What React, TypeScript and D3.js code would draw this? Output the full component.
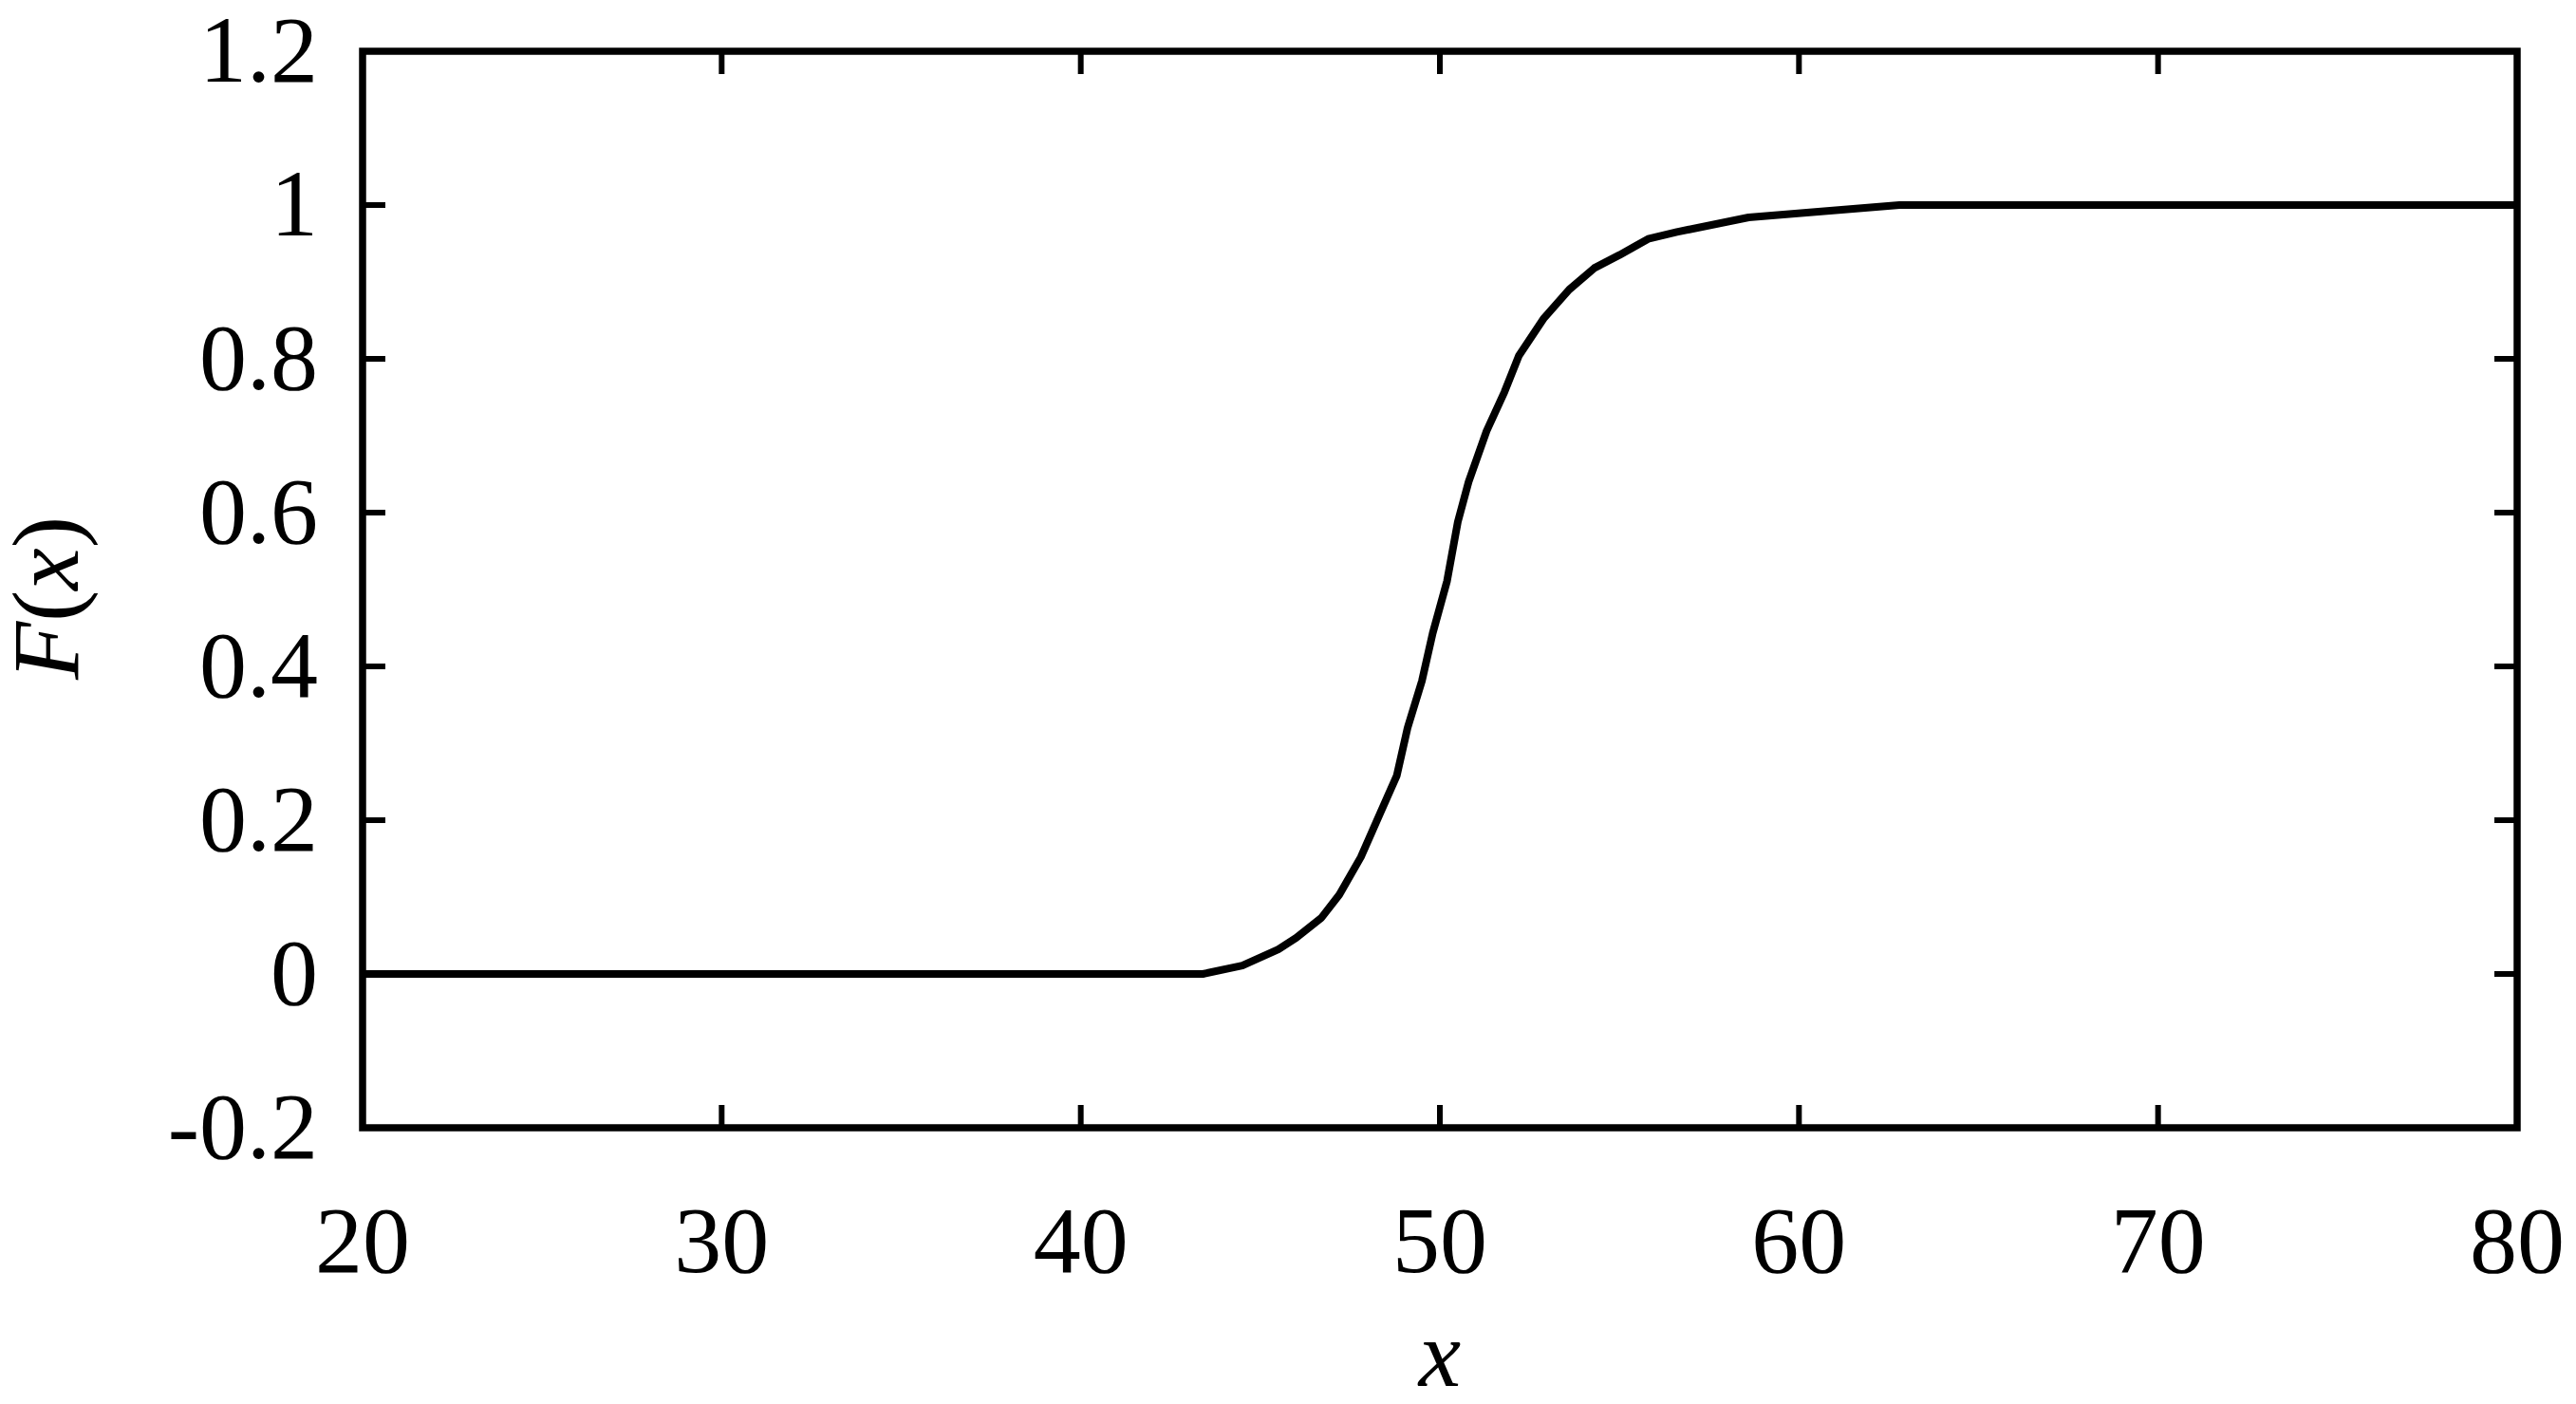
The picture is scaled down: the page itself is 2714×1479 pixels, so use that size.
import * as d3 from "d3";
import React from "react";

// values
const xValues = [20, 43.4, 44.5, 45.5, 46.0, 46.7, 47.2, 47.8, 48.3, 48.8, 49.1, 49.5, 49.8, 50.2, 50.5, 50.8, 51.3, 51.8, 52.2, 52.9, 53.6, 54.3, 55.0, 55.8, 56.6, 58.6, 62.8, 80];
const yValues = [0, 0, 0.011, 0.032, 0.047, 0.073, 0.103, 0.152, 0.205, 0.258, 0.32, 0.381, 0.443, 0.511, 0.588, 0.64, 0.706, 0.757, 0.804, 0.853, 0.89, 0.918, 0.935, 0.956, 0.965, 0.984, 1.0, 1.0];

const xTicks = [20, 30, 40, 50, 60, 70, 80];
const yTicks = [-0.2, 0, 0.2, 0.4, 0.6, 0.8, 1, 1.2];

const App = () => {
    const width = 2714;
    const height = 1479;
    const left = 382;
    const right = 2652;
    const top = 54;
    const bottom = 1188;
    const tickLength = 24;
    const font = "'Liberation Serif', 'Times New Roman', serif";

    const xScale = d3.scaleLinear().domain([20, 80]).range([left, right]);
    const yScale = d3.scaleLinear().domain([-0.2, 1.2]).range([bottom, top]);

    const points = xValues.map((x, i) => [x, yValues[i]]);
    const line = d3.line()
        .x(d => xScale(d[0]))
        .y(d => yScale(d[1]));

    return (
        <svg
            width={width}
            height={height}
            style={{position: "absolute", left: 0, top: 0, background: "white"}}
            fontFamily={font}
        >
            <rect x={0} y={0} width={width} height={height} fill="white" />
            {xTicks.map(t => (
                <g key={`x-${t}`}>
                    <line x1={xScale(t)} x2={xScale(t)} y1={bottom} y2={bottom - tickLength} stroke="black" strokeWidth={6} />
                    <line x1={xScale(t)} x2={xScale(t)} y1={top} y2={top + tickLength} stroke="black" strokeWidth={6} />
                    <text x={xScale(t)} y={bottom + 152} fontSize={100} textAnchor="middle">{t}</text>
                </g>
            ))}
            {yTicks.map(t => (
                <g key={`y-${t}`}>
                    <line x1={left} x2={left + tickLength} y1={yScale(t)} y2={yScale(t)} stroke="black" strokeWidth={6} />
                    <line x1={right} x2={right - tickLength} y1={yScale(t)} y2={yScale(t)} stroke="black" strokeWidth={6} />
                    <text x={left - 47} y={yScale(t) + 32} fontSize={100} textAnchor="end">{d3.format("~g")(t).replace("−", "-")}</text>
                </g>
            ))}
            <path d={line(points)} fill="none" stroke="black" strokeWidth={8} strokeLinejoin="round" />
            <rect x={left} y={top} width={right - left} height={bottom - top} fill="none" stroke="black" strokeWidth={7.5} />
            <text x={xScale(50)} y={1460} fontSize={100} textAnchor="middle" fontStyle="italic">x</text>
            <text
                transform={`translate(82, ${(top + bottom) / 2 + 9}) rotate(-90)`}
                fontSize={100}
                textAnchor="middle"
            >
                <tspan fontStyle="italic">F</tspan>(<tspan fontStyle="italic">x</tspan>)
            </text>
        </svg>
    );
};

export default App;
